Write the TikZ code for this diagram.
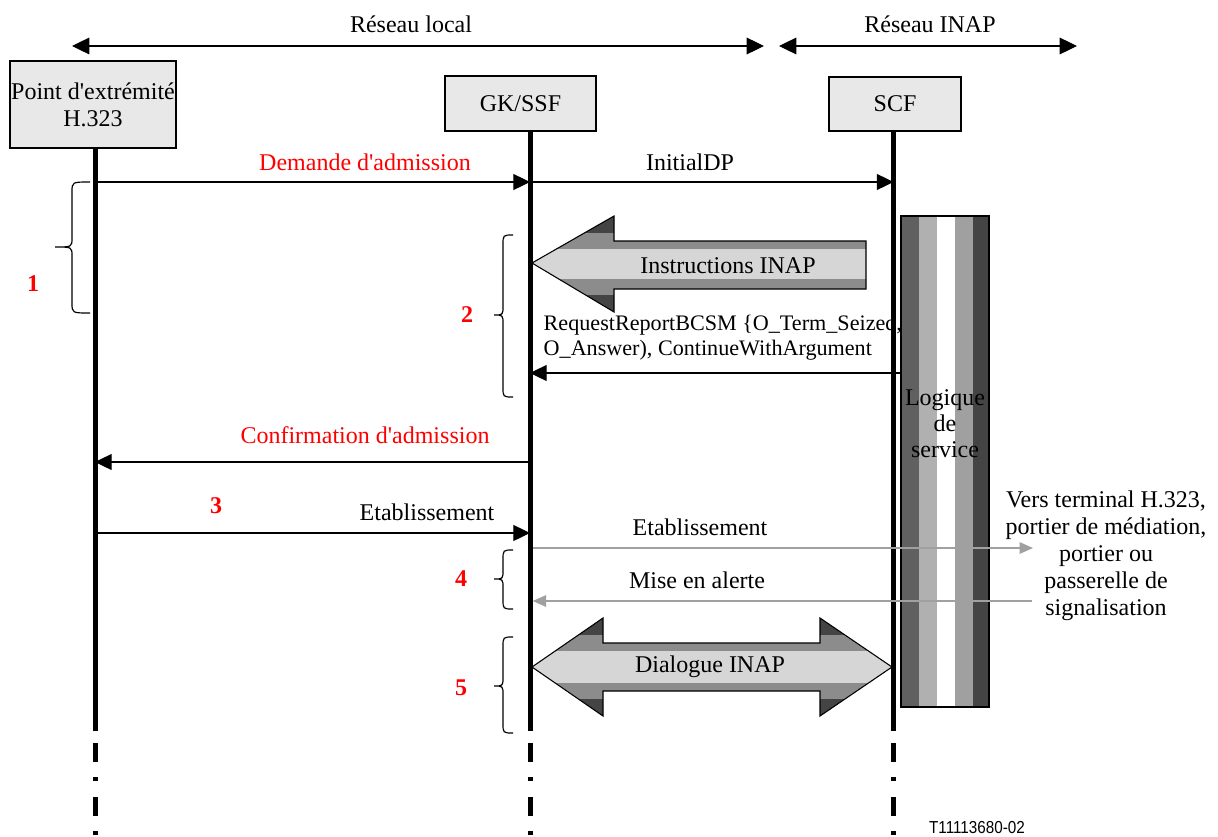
\documentclass[tikz,border=0pt]{standalone}
\usepackage{fontspec}
\setmainfont{Liberation Serif}
\newfontfamily\codefont{Liberation Sans}
\usetikzlibrary{arrows.meta}

\definecolor{boxgray}{HTML}{E8E8E8}
\definecolor{bandDark}{HTML}{444444}
\definecolor{bandMid}{HTML}{8C8C8C}
\definecolor{bandLight}{HTML}{D6D6D6}
\definecolor{msggray}{HTML}{A0A0A0}
\definecolor{stripeA}{HTML}{606060}
\definecolor{stripeB}{HTML}{B0B0B0}
\definecolor{stripeD}{HTML}{A0A0A0}
\definecolor{stripeE}{HTML}{444444}

\newcommand\apos{\textquotesingle}

% curly brace opening to the right: end x, spine x, tip x, top y, tip y, bottom y
\newcommand\curlbrace[6]{%
  \draw[bracestyle] (#1,#4) .. controls (#2,#4) .. (#2,{#4+10})
    -- (#2,{#5-9}) .. controls (#2,#5) .. (#3,#5)
    .. controls (#2,#5) .. (#2,{#5+9})
    -- (#2,{#6-10}) .. controls (#2,#6) .. (#1,#6);}

% horizontal shading bands of a block arrow (x-range, top y, height)
\newcommand\arrowbands[4]{%
  \fill[bandDark]  (#1,#3) rectangle (#2,{#3+0.175*#4});
  \fill[bandMid]   (#1,{#3+0.175*#4}) rectangle (#2,{#3+0.34*#4});
  \fill[bandLight] (#1,{#3+0.34*#4}) rectangle (#2,{#3+0.66*#4});
  \fill[bandMid]   (#1,{#3+0.66*#4}) rectangle (#2,{#3+0.825*#4});
  \fill[bandDark]  (#1,{#3+0.825*#4}) rectangle (#2,{#3+#4});}

\begin{document}
\begin{tikzpicture}[x=0.75pt,y=-0.75pt,
  font=\fontsize{18}{20}\selectfont,
  entity/.style={draw, line width=0.8pt, fill=boxgray, inner sep=0pt, align=center},
  lifeline/.style={line width=3.75pt},
  lifedash/.style={line width=3.75pt, dash pattern=on 14.25pt off 11.25pt on 3pt off 12pt},
  msg/.style={line width=0.9pt, -{Triangle[length=12.5pt,width=12pt]}},
  graymsg/.style={msggray, line width=1.2pt, -{Triangle[length=10pt,width=8.5pt]}},
  span/.style={line width=0.9pt, {Triangle[length=13pt,width=12.5pt]}-{Triangle[length=13pt,width=12.5pt]}},
  bracestyle/.style={line width=0.9pt},
  stepnum/.style={text=red, font=\fontsize{18}{20}\selectfont\bfseries},
  redlabel/.style={text=red},
  blockarrow/.style={draw, line width=0.8pt}]

\useasboundingbox (0,0) rectangle (1218,836);

% network domains
\coordinate (localL) at (72,46);
\coordinate (localR) at (764,46);
\coordinate (inapL) at (779,46);
\coordinate (inapR) at (1077,46);
\draw[span] (localL) -- (localR);
\draw[span] (inapL) -- (inapR);
\node (tlocal) at (411,24) {Réseau local};
\node (tinap) at (930,24) {Réseau INAP};

% entities
\node[entity, minimum width=124.5pt, minimum height=65.25pt] (ep) at (93,104.5) {Point d\apos extrémité\\H.323};
\node[entity, minimum width=113.25pt, minimum height=41.25pt] (gk) at (520.5,103.5) {GK/SSF};
\node[entity, minimum width=99pt, minimum height=40.5pt] (scf) at (895,104) {SCF};

% lifelines
\coordinate (L1) at (95,148);
\coordinate (L2) at (530,131);
\coordinate (L3) at (893.5,131);
\foreach \c in {L1,L2,L3}{
  \draw[lifeline] (\c) -- (\c |- 0,731);
  \draw[lifedash] (\c |- 0,743) -- (\c |- 0,836);
}

% service logic column
\fill[stripeA] (901,216) rectangle (919,707);
\fill[stripeB] (919,216) rectangle (937,707);
\fill[white]   (937,216) rectangle (955,707);
\fill[stripeD] (955,216) rectangle (973,707);
\fill[stripeE] (973,216) rectangle (989,707);
\node[draw, line width=0.8pt, minimum width=66pt, minimum height=368.25pt, inner sep=0pt] (logic) at (945,461.5) {};
\node[align=center, font=\fontsize{18}{19.5}\selectfont] (logictext) at (945,424) {Logique\\de\\service};

% phase 1
\draw[msg] (L1 |- 0,182) -- (L2 |- 0,182);
\node[redlabel] (dadm) at (365,162) {Demande d\apos admission};
\draw[msg] (L2 |- 0,182) -- (L3 |- 0,182);
\node (idp) at (690,162) {InitialDP};
\curlbrace{90}{72}{55}{182}{247}{313}
\node[stepnum] (n1) at (33,284) {1};

% phase 2: INAP instructions
\begin{scope}
  \clip (532,263) -- (614,216) -- (614,241) -- (866,241) -- (866,289) -- (614,289) -- (614,312) -- cycle;
  \arrowbands{530}{868}{216}{96}
\end{scope}
\draw[blockarrow] (532,263) -- (614,216) -- (614,241) -- (866,241) -- (866,289) -- (614,289) -- (614,312) -- cycle;
\node (instr) at (728,266) {Instructions INAP};
\node[anchor=west, align=left, font=\fontsize{16.6}{18.75}\selectfont] (rrb) at (539,338)
  {RequestReportBCSM \{O\_Term\_Seized,\\O\_Answer), ContinueWithArgument};
\draw[msg] (logic.west |- 0,373) -- (L2 |- 0,373);
\curlbrace{513}{503}{494}{235}{315}{397}
\node[stepnum] (n2) at (467,315) {2};

% admission confirmation
\draw[msg] (L2 |- 0,462) -- (L1 |- 0,462);
\node[redlabel] (cadm) at (365,435) {Confirmation d\apos admission};

% phase 3: setup
\draw[msg] (L1 |- 0,533) -- (L2 |- 0,533);
\node (etab1) at (427,512) {Etablissement};
\node[stepnum] (n3) at (216,506) {3};

% phase 4: towards the far side
\coordinate (farOut) at (1033,548);
\coordinate (farIn) at (1032,601);
\draw[graymsg] ([xshift=2pt]L2 |- 0,548) -- (farOut);
\node (etab2) at (700,527) {Etablissement};
\draw[graymsg] (farIn) -- ([xshift=2pt]L2 |- 0,601);
\node (alert) at (697,580) {Mise en alerte};
\curlbrace{513}{503}{494}{550}{579}{609}
\node[stepnum] (n4) at (461,579) {4};
\node[align=center, font=\fontsize{18}{20.25}\selectfont] (dest) at (1106,556)
  {Vers terminal H.323,\\portier de médiation,\\portier ou\\passerelle de\\signalisation};

% phase 5: INAP dialogue
\begin{scope}
  \clip (532,667) -- (603,618) -- (603,643) -- (820,643) -- (820,618) -- (892,667) -- (820,716) -- (820,691) -- (603,691) -- (603,716) -- cycle;
  \arrowbands{530}{894}{618}{98}
\end{scope}
\draw[blockarrow] (532,667) -- (603,618) -- (603,643) -- (820,643) -- (820,618) -- (892,667) -- (820,716) -- (820,691) -- (603,691) -- (603,716) -- cycle;
\node (dial) at (710,667) {Dialogue INAP};
\curlbrace{513}{503}{494}{637}{686}{733}
\node[stepnum] (n5) at (461,688) {5};

% figure reference
\node[xscale=0.88, font=\codefont\fontsize{13}{15}\selectfont] (figref) at (977,828) {T11113680-02};
\end{tikzpicture}
\end{document}
